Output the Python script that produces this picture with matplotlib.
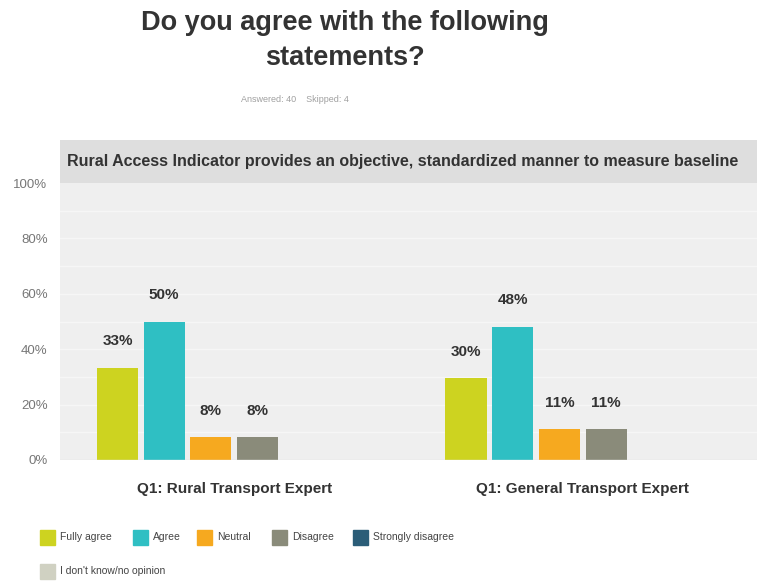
import matplotlib
matplotlib.use("Agg")
import matplotlib.pyplot as plt
from matplotlib.patches import Rectangle

plt.rcParams['font.family'] = ['Liberation Sans', 'DejaVu Sans']

categories = ["Q1: Rural Transport Expert", "Q1: General Transport Expert"]
series = ["Fully agree", "Agree", "Neutral", "Disagree", "Strongly disagree", "I don't know/no opinion"]
values = {
    "Fully agree": [33.33, 29.63],
    "Agree": [50.0, 48.15],
    "Neutral": [8.33, 11.11],
    "Disagree": [8.33, 11.11],
    "Strongly disagree": [0, 0],
    "I don't know/no opinion": [0, 0],
}
value_labels = {
    "Fully agree": ["33%", "30%"],
    "Agree": ["50%", "48%"],
    "Neutral": ["8%", "11%"],
    "Disagree": ["8%", "11%"],
}
colors = ["#cdd320", "#2fbfc3", "#f6a91f", "#8a8b7a", "#2b5d78", "#d0d1c2"]
yticks = [0, 20, 40, 60, 80, 100]
ytick_labels = ["0%", "20%", "40%", "60%", "80%", "100%"]

W, H = 759, 583
fig = plt.figure(figsize=(W / 100, H / 100), dpi=100)

# title
fig.text(345 / W, 1 - 23 / H, "Do you agree with the following", ha="center", va="center",
         fontsize=19.5, fontweight="bold", color="#333333")
fig.text(345 / W, 1 - 58 / H, "statements?", ha="center", va="center",
         fontsize=19.5, fontweight="bold", color="#333333")
fig.text(295 / W, 1 - 100 / H, "Answered: 40    Skipped: 4", ha="center", va="center",
         fontsize=6.5, color="#a0a0a0")

# header band
hax = fig.add_axes([60 / W, 1 - 183 / H, 697 / W, 43 / H])
hax.set_facecolor("#dedede")
hax.set_xticks([]); hax.set_yticks([])
for s in hax.spines.values():
    s.set_visible(False)
hax.text(7 / 697, 0.5, "Rural Access Indicator provides an objective, standardized manner to measure baseline",
         transform=hax.transAxes, ha="left", va="center", fontsize=11.5, fontweight="bold",
         color="#333333", clip_on=True)

# main axes
ax = fig.add_axes([60 / W, 1 - 460 / H, 697 / W, 277 / H])
ax.set_facecolor("#efefef")
ax.set_xlim(-0.5, 1.5)
ax.set_ylim(0, 100)
for y in range(10, 100, 10):
    ax.axhline(y, color="#f6f6f6", lw=1.0, zorder=0)

slot = 0.134
width = 0.118
n = len(series)
for i, s in enumerate(series):
    offs = (i - (n - 1) / 2) * slot
    xs = [c + offs for c in range(len(categories))]
    ax.bar(xs, values[s], width=width, color=colors[i], zorder=2)
    if s in value_labels:
        for x, v, lab in zip(xs, values[s], value_labels[s]):
            ax.annotate(lab, (x, v), xytext=(0, 19), textcoords="offset points",
                        ha="center", va="center", fontsize=11, fontweight="bold", color="#333333")

ax.set_yticks(yticks)
ax.set_yticklabels(ytick_labels, fontsize=9.5, color="#777777")
ax.set_xticks(range(len(categories)))
ax.set_xticklabels(categories, fontsize=11, fontweight="bold", color="#333333")
ax.tick_params(axis="both", length=0)
ax.tick_params(axis="y", pad=9)
ax.tick_params(axis="x", pad=16)
for s in ax.spines.values():
    s.set_visible(False)
ax.axhline(0, color="#e2e2e2", lw=1, zorder=3)

# legend (manual)
leg_pos = [(40, 537), (133, 537), (197, 537), (272, 537), (353, 537), (40, 571)]
for (lx, ly), s, c in zip(leg_pos, series, colors):
    fig.patches.append(Rectangle((lx / W, 1 - (ly + 8) / H), 15 / W, 15 / H,
                                 transform=fig.transFigure, color=c))
    fig.text((lx + 20) / W, 1 - ly / H, s, ha="left", va="center", fontsize=7.5, color="#444444")

fig.savefig("out.png", dpi=100)
